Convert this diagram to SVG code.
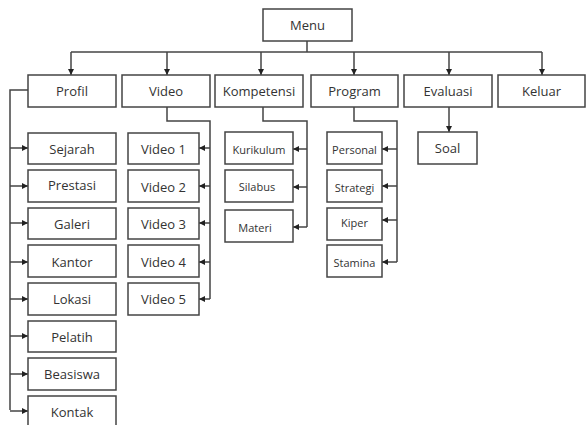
<svg xmlns="http://www.w3.org/2000/svg" width="586" height="425" viewBox="0 0 586 425">
<style>
.b{fill:#fff;stroke:#444;stroke-width:1.5}
.t{font-family:"Open Sans",sans-serif;font-size:13px;fill:#333;text-anchor:middle;dominant-baseline:central}
.s{font-size:11px}
.c{fill:none;stroke:#444;stroke-width:1.5}
</style>
<defs>
<marker id="a" viewBox="0 0 10 10" refX="10" refY="5" markerWidth="4" markerHeight="4" orient="auto" markerUnits="strokeWidth">
<path d="M0,0L10,5L0,10z" fill="#222"/>
</marker>
</defs>
<rect width="586" height="425" fill="#fff"/>
<g id="connectors" class="c" marker-end="url(#a)">
<path d="M307,41V52" marker-end="none"/>
<path d="M71,52H542" marker-end="none"/>
<path d="M71,52V75"/><path d="M167,52V75"/><path d="M261,52V75"/><path d="M354,52V75"/><path d="M449,52V75"/><path d="M542,52V75"/>
<path d="M28,90H10V410" marker-end="none"/>
<path d="M10,148H28"/><path d="M10,186H28"/><path d="M10,223H28"/><path d="M10,262H28"/><path d="M10,299H28"/><path d="M10,336H28"/><path d="M10,374H28"/><path d="M10,411H28"/>
<path d="M167,107V121H210V299" marker-end="none"/>
<path d="M210,148H199"/><path d="M210,186H199"/><path d="M210,223H199"/><path d="M210,262H199"/><path d="M210,299H199"/>
<path d="M263,107V121H307V227" marker-end="none"/>
<path d="M307,149H293"/><path d="M307,187H293"/><path d="M307,227H293"/>
<path d="M354,107V121H397V262" marker-end="none"/>
<path d="M397,149H382"/><path d="M397,186H382"/><path d="M397,220H382"/><path d="M397,262H382"/>
<path d="M449,107V132"/>
</g>
<g id="menu"><rect class="b" x="263" y="9" width="89" height="32"/><text class="t" x="307.5" y="25">Menu</text></g>
<g id="profil"><rect class="b" x="28" y="75" width="88" height="32"/><text class="t" x="72" y="91">Profil</text></g>
<g id="video"><rect class="b" x="122" y="75" width="88" height="32"/><text class="t" x="166" y="91">Video</text></g>
<g id="kompetensi"><rect class="b" x="215" y="75" width="88" height="32"/><text class="t" x="259" y="91">Kompetensi</text></g>
<g id="program"><rect class="b" x="311" y="75" width="87" height="32"/><text class="t" x="354.5" y="91">Program</text></g>
<g id="evaluasi"><rect class="b" x="404" y="75" width="88" height="32"/><text class="t" x="448" y="91">Evaluasi</text></g>
<g id="keluar"><rect class="b" x="498" y="75" width="87" height="32"/><text class="t" x="541.5" y="91">Keluar</text></g>
<g id="sejarah"><rect class="b" x="28" y="133" width="88" height="31"/><text class="t" x="72" y="149">Sejarah</text></g>
<g id="prestasi"><rect class="b" x="28" y="170" width="88" height="32"/><text class="t" x="72" y="185">Prestasi</text></g>
<g id="galeri"><rect class="b" x="28" y="208" width="88" height="31"/><text class="t" x="72" y="224">Galeri</text></g>
<g id="kantor"><rect class="b" x="28" y="245" width="88" height="32"/><text class="t" x="72" y="262">Kantor</text></g>
<g id="lokasi"><rect class="b" x="28" y="283" width="88" height="32"/><text class="t" x="72" y="299">Lokasi</text></g>
<g id="pelatih"><rect class="b" x="28" y="321" width="88" height="31"/><text class="t" x="72" y="337">Pelatih</text></g>
<g id="beasiswa"><rect class="b" x="28" y="358" width="88" height="32"/><text class="t" x="72" y="374">Beasiswa</text></g>
<g id="kontak"><rect class="b" x="28" y="396" width="88" height="34"/><text class="t" x="72" y="412">Kontak</text></g>
<g id="video1"><rect class="b" x="128" y="133" width="71" height="31"/><text class="t" x="163.5" y="149">Video 1</text></g>
<g id="video2"><rect class="b" x="128" y="170" width="71" height="32"/><text class="t" x="163.5" y="187">Video 2</text></g>
<g id="video3"><rect class="b" x="128" y="208" width="71" height="31"/><text class="t" x="163.5" y="224">Video 3</text></g>
<g id="video4"><rect class="b" x="128" y="245" width="71" height="32"/><text class="t" x="163.5" y="262">Video 4</text></g>
<g id="video5"><rect class="b" x="128" y="283" width="71" height="32"/><text class="t" x="163.5" y="299">Video 5</text></g>
<g id="kurikulum"><rect class="b" x="225" y="132" width="68" height="32"/><text class="t s" x="259" y="149">Kurikulum</text></g>
<g id="silabus"><rect class="b" x="225" y="170" width="68" height="32"/><text class="t s" x="257" y="186">Silabus</text></g>
<g id="materi"><rect class="b" x="225" y="210" width="68" height="32"/><text class="t s" x="255" y="227">Materi</text></g>
<g id="personal"><rect class="b" x="327" y="132" width="55" height="32"/><text class="t s" x="354.5" y="149">Personal</text></g>
<g id="strategi"><rect class="b" x="327" y="170" width="55" height="32"/><text class="t s" x="354.5" y="187">Strategi</text></g>
<g id="kiper"><rect class="b" x="327" y="208" width="55" height="32"/><text class="t s" x="354.5" y="222">Kiper</text></g>
<g id="stamina"><rect class="b" x="327" y="245" width="55" height="32"/><text class="t s" x="354.5" y="262">Stamina</text></g>
<g id="soal"><rect class="b" x="418" y="132" width="59" height="32"/><text class="t" x="447.5" y="148">Soal</text></g>
</svg>
